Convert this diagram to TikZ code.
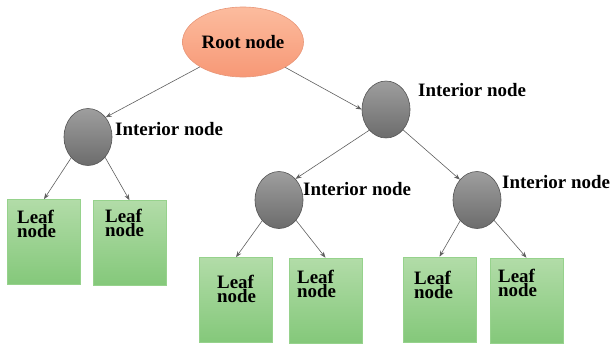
\documentclass[tikz,border=0pt]{standalone}
\usepackage{fontspec}
\setmainfont{Liberation Serif}
\usetikzlibrary{shapes.geometric,arrows.meta}
\definecolor{rootfillA}{RGB}{252,188,158}
\definecolor{rootfillB}{RGB}{247,152,118}
\definecolor{rootedge}{RGB}{232,150,120}
\definecolor{intA}{RGB}{158,158,158}
\definecolor{intB}{RGB}{108,108,108}
\definecolor{intedge}{RGB}{85,85,85}
\definecolor{leafA}{RGB}{178,220,168}
\definecolor{leafB}{RGB}{132,200,122}
\definecolor{leafedge}{RGB}{150,210,140}
\definecolor{arrowcol}{RGB}{95,95,95}
\tikzset{
  rootnode/.style={ellipse, draw=rootedge, line width=0.6bp, top color=rootfillA, bottom color=rootfillB,
    minimum width=121bp, minimum height=70bp, inner sep=0pt, font=\fontsize{19}{14}\selectfont\bfseries},
  intnode/.style={ellipse, draw=intedge, line width=0.6bp, top color=intA, bottom color=intB,
    minimum width=48bp, minimum height=57bp, inner sep=0pt},
  leafbox/.style={rectangle, draw=leafedge, line width=0.6bp, top color=leafA, bottom color=leafB,
    minimum width=73bp, minimum height=85bp, inner sep=0pt},
  leaftext/.style={anchor=north west, inner sep=0pt, align=left, font=\fontsize{19}{14}\selectfont\bfseries},
  intlabel/.style={anchor=west, inner sep=0pt, font=\fontsize{19}{14}\selectfont\bfseries},
  conn/.style={draw=arrowcol, line width=0.6bp, -{Stealth[length=6bp,width=4.5bp]}}
}
\begin{document}
\begin{tikzpicture}[x=1bp,y=-1bp]
\useasboundingbox (0,0) rectangle (612,344);
% nodes
\node[rootnode] (root) at (243,42) {Root node};
\node[intnode] (li) at (88,137) {};
\node[intnode] (ri) at (386,109.5) {};
\node[intnode] (m1) at (279,200) {};
\node[intnode] (m2) at (477,200) {};
\node[leafbox] (l1) at (44,242) {};
\node[leafbox] (l2) at (129.5,243) {};
\node[leafbox] (l3) at (236,300) {};
\node[leafbox] (l4) at (325.5,300.5) {};
\node[leafbox] (l5) at (439.5,299.5) {};
\node[leafbox] (l6) at (526.5,300.5) {};
% labels
\node[intlabel] (lil) at (115,129) {Interior node};
\node[intlabel] (ril) at (418,90) {Interior node};
\node[intlabel] (m1l) at (303,189) {Interior node};
\node[intlabel] (m2l) at (502,182) {Interior node};
\node[leaftext] (t1) at (17,210) {Leaf\\node};
\node[leaftext] (t2) at (105,209) {Leaf\\node};
\node[leaftext] (t3) at (217,275) {Leaf\\node};
\node[leaftext] (t4) at (297,270) {Leaf\\node};
\node[leaftext] (t5) at (414,271) {Leaf\\node};
\node[leaftext] (t6) at (498,269) {Leaf\\node};
% connectors
\draw[conn] (root.210) -- (li.48);
\draw[conn] (root.-31) -- (ri.west);
\draw[conn] (li.231) -- (l1.north);
\draw[conn] (li.310) -- (l2.north);
\draw[conn] (ri.231) -- (m1.52);
\draw[conn] (ri.310) -- (m2.130);
\draw[conn] (m1.231) -- (l3.north);
\draw[conn] (m1.310) -- (l4.north);
\draw[conn] (m2.231) -- (l5.north);
\draw[conn] (m2.310) -- (l6.north);
\end{tikzpicture}
\end{document}
